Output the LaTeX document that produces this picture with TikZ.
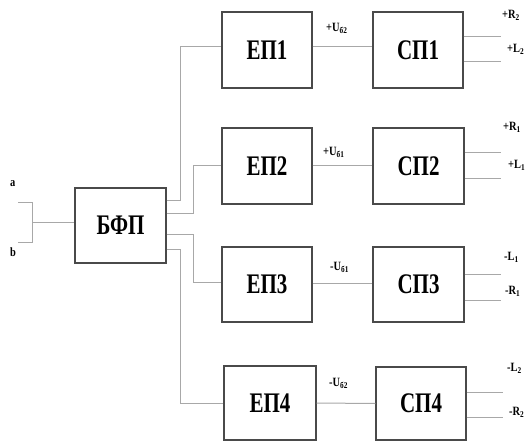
\documentclass[tikz,border=0pt]{standalone}
\usepackage{fontspec}
\setmainfont{Liberation Serif}
\definecolor{boxc}{HTML}{4A4A4A}
\definecolor{wirec}{HTML}{A8A8A8}
\tikzset{
  blk/.style={draw=boxc, line width=1.4pt, minimum width=90pt, minimum height=76pt, inner sep=0pt,
    font=\fontsize{21}{21}\selectfont\bfseries},
  wire/.style={draw=wirec, line width=1pt},
  lbl/.style={inner sep=0pt, anchor=west, font=\fontsize{11}{11}\selectfont\bfseries},
}
\newcommand{\tall}[1]{\scalebox{1}[1.35]{#1}}
\newcommand{\stl}[1]{\scalebox{0.95}[1.15]{#1}}
\begin{document}
\begin{tikzpicture}[x=1pt,y=-1pt]
\useasboundingbox (0,0) rectangle (529,441);
% blocks
\node[blk, minimum width=91pt, minimum height=75pt] (bfp) at (120.5,225.5) {\tall{БФП}};
\node[blk] (ep1) at (267,50) {\tall{ЕП1}};
\node[blk] (ep2) at (267,166) {\tall{ЕП2}};
\node[blk, minimum height=75pt] (ep3) at (267,284.5) {\tall{ЕП3}};
\node[blk, minimum width=92pt, minimum height=74pt] (ep4) at (270,403) {\tall{ЕП4}};
\node[blk] (cp1) at (418,50) {\tall{СП1}};
\node[blk, minimum width=91pt] (cp2) at (418.5,166) {\tall{СП2}};
\node[blk, minimum width=91pt, minimum height=75pt] (cp3) at (418.5,284.5) {\tall{СП3}};
\node[blk, minimum height=73pt] (cp4) at (421,403.5) {\tall{СП4}};
% input bracket
\coordinate (br) at (32,222);
\draw[wire] (18,202) -- (32,202) -- (32,242) -- (18,242);
\draw[wire] (br) -- (bfp.west |- br);
\node[lbl] (la) at (10,184) {\stl{a}};
\node[lbl] (lb) at (10,252) {\stl{b}};
% BFP to EP
\draw[wire] ([yshift=25.5pt]bfp.east) -- ++(14pt,0) |- ([yshift=3pt]ep1.west);
\draw[wire] ([yshift=12.5pt]bfp.east) -- ++(27pt,0) |- ([yshift=1pt]ep2.west);
\draw[wire] ([yshift=-8.5pt]bfp.east) -- ++(27pt,0) |- ([yshift=2.5pt]ep3.west);
\draw[wire] ([yshift=-23.5pt]bfp.east) -- ++(14pt,0) |- (ep4.west);
% EP to CP
\draw[wire] ([yshift=3pt]ep1.east) -- ([yshift=3pt]cp1.west);
\draw[wire] ([yshift=1pt]ep2.east) -- ([yshift=1pt]cp2.west);
\draw[wire] ([yshift=1.5pt]ep3.east) -- ([yshift=1.5pt]cp3.west);
\draw[wire] (ep4.east) -- (cp4.west);
\node[lbl] (u1) at (326,28) {\stl{+U\textsubscript{б2}}};
\node[lbl] (u2) at (323,152) {\stl{+U\textsubscript{б1}}};
\node[lbl] (u3) at (330,267) {\stl{-U\textsubscript{б1}}};
\node[lbl] (u4) at (329,383) {\stl{-U\textsubscript{б2}}};
% outputs
\draw[wire] ([yshift=13pt]cp1.east) -- ++(37pt,0);
\draw[wire] ([yshift=-12pt]cp1.east) -- ++(37pt,0);
\draw[wire] ([yshift=14pt]cp2.east) -- ++(36pt,0);
\draw[wire] ([yshift=-12pt]cp2.east) -- ++(36pt,0);
\draw[wire] ([yshift=10.5pt]cp3.east) -- ++(36pt,0);
\draw[wire] ([yshift=-15.5pt]cp3.east) -- ++(36pt,0);
\draw[wire] ([yshift=11.5pt]cp4.east) -- ++(36pt,0);
\draw[wire] ([yshift=-13.5pt]cp4.east) -- ++(36pt,0);
\node[lbl] (r2a) at (502,15) {\stl{+R\textsubscript{2}}};
\node[lbl] (l2a) at (507,49) {\stl{+L\textsubscript{2}}};
\node[lbl] (r1a) at (503,127) {\stl{+R\textsubscript{1}}};
\node[lbl] (l1a) at (508,165) {\stl{+L\textsubscript{1}}};
\node[lbl] (l1b) at (504,257) {\stl{-L\textsubscript{1}}};
\node[lbl] (r1b) at (505,291) {\stl{-R\textsubscript{1}}};
\node[lbl] (l2b) at (507,368) {\stl{-L\textsubscript{2}}};
\node[lbl] (r2b) at (509,412) {\stl{-R\textsubscript{2}}};
\end{tikzpicture}
\end{document}
